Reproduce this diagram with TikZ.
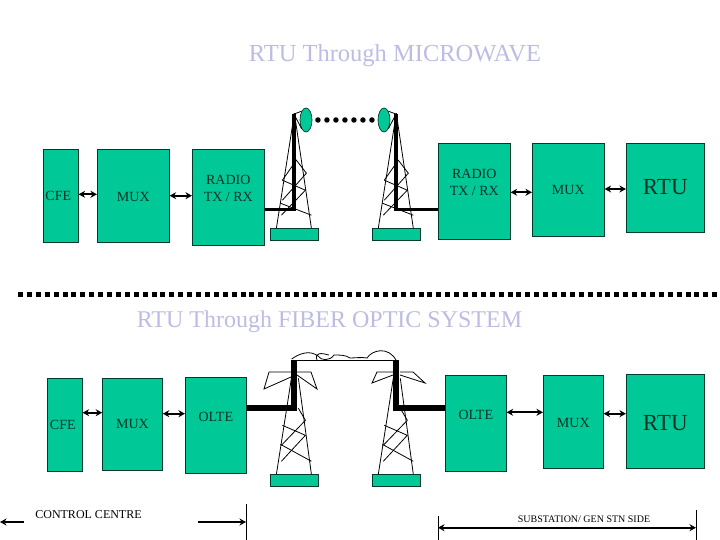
\documentclass[tikz,border=0pt]{standalone}
\usepackage{fontspec}
\setmainfont{Liberation Serif}
\usepackage{tikz}
\usetikzlibrary{
  arrows.meta,
  shapes.geometric
}
\definecolor{boxgreen}{RGB}{0,201,151}
\definecolor{titleblue}{RGB}{188,188,228}

\begin{document}
\begin{tikzpicture}[
  x=1pt, y=-1pt,
  >={Stealth[length=6.5pt,width=7pt]},
  box/.style={draw=black!70!boxgreen, fill=boxgreen, line width=0.7pt, inner sep=0pt,
              font=\fontsize{14}{17}\selectfont, align=center, text=black!75!boxgreen},
  bigbox/.style={box, font=\fontsize{23}{25}\selectfont},
  base/.style={box, minimum width=48pt, minimum height=12pt},
  dish/.style={ellipse, draw=black!70!boxgreen, fill=boxgreen, line width=0.7pt, inner sep=0pt,
               minimum width=12pt, minimum height=24pt},
  heading/.style={font=\fontsize{24}{26}\selectfont, text=titleblue, inner sep=0pt},
  note/.style={inner sep=0pt, text=black},
  arr/.style={<->, line width=2pt, black},
  span/.style={line width=2pt, black},
  feeder/.style={line width=3.8pt, black},
  fatfeeder/.style={line width=6pt, black},
  wire/.style={line width=0.8pt, black},
  pics/mwtower/.style={code={
    \draw[wire] (0,-121) -- (-18,-6) (0,-121) -- (17,-6);
    \draw[wire] (-12,-54) -- (2,-74) -- (12,-61) -- (-12,-34);
    \draw[wire] (-12,-54) -- (11,-44) -- (-13,-19);
    \draw[wire] (-14,-31) -- (17,-19);
  }},
  pics/fibretower/.style={code={
    \draw[wire] (-3,-102) -- (-18,-6) (4,-102) -- (17,-6);
    \draw[wire] (4,-72) -- (11,-60) -- (-13,-35);
    \draw[wire] (-12,-55) -- (11,-45) -- (-13,-19);
    \draw[wire] (-14,-36) -- (17,-19);
  }},
]
\useasboundingbox (0,0) rectangle (720,540);

% microwave side
\node[heading, font=\fontsize{24.5}{26}\selectfont] (titlea) at (395,56) {RTU Through MICROWAVE};
\node[box, minimum width=35pt, minimum height=93pt] (cfea) at (60.8,195.6) {\hspace{-5pt}CFE};
\node[box, minimum width=72pt, minimum height=93pt, text height=12pt] (muxa) at (133.3,195.6) {MUX};
\node[box, minimum width=72pt, minimum height=96pt] (radioa) at (228.3,197) {RADIO\\TX / RX\\~};
\node[box, minimum width=72pt, minimum height=96pt] (radiob) at (474.3,191) {RADIO\\TX / RX\\~};
\node[box, minimum width=72pt, minimum height=93pt] (muxb) at (568.3,190) {MUX};
\node[bigbox, minimum width=78pt, minimum height=89pt] (rtua) at (665.3,187.4) {RTU};

\draw[arr] (cfea.east |- 0,194.3) -- (muxa.west |- 0,194.3);
\draw[arr] (muxa.east |- 0,195.7) -- (radioa.west |- 0,195.7);
\draw[arr] (radiob.east |- 0,192.3) -- (muxb.west |- 0,192.3);
\draw[arr] (muxb.east |- 0,189) -- (rtua.west |- 0,189);

\node[base] (basea) at (294.4,234.2) {};
\node[base] (baseb) at (396.3,234.2) {};
\pic (towera) at (basea) {mwtower};
\pic (towerb) at (baseb) {mwtower};
\coordinate (masta) at (294,114);
\coordinate (mastb) at (396,114);
\node[dish] (disha) at (306,120) {};
\node[dish] (dishb) at (384,120) {};
\draw[feeder] (radioa.east |- 0,209.5) -| (masta);
\draw[feeder] (radiob.west |- 0,209.5) -| (mastb);
\draw[wire] (disha.north west) -- (masta) -- (disha.south west);
\draw[wire] (dishb.north east) -- (mastb) -- (dishb.south east);
\draw[line width=5.5pt, line cap=round, dash pattern=on 0pt off 9pt, shorten <=5.6pt, shorten >=5pt] (disha) -- (dishb);

% divider
\coordinate (dividera) at (18,294);
\coordinate (dividerb) at (718,294);
\draw[line width=5pt, dash pattern=on 5pt off 3.9pt] (dividera) -- (dividerb);

% fibre side
\node[heading] (titleb) at (329.5,322) {RTU Through FIBER OPTIC SYSTEM};
\node[box, minimum width=35pt, minimum height=93pt] (cfec) at (64.8,424.5) {\hspace{-4pt}CFE};
\node[box, minimum width=60pt, minimum height=92pt] (muxc) at (132.5,424) {MUX};
\node[box, minimum width=61pt, minimum height=96pt] (oltea) at (215.8,425.8) {OLTE\\~};
\node[box, minimum width=61pt, minimum height=96pt] (olteb) at (475.8,423.6) {OLTE\\~};
\node[box, minimum width=60pt, minimum height=93pt, text height=11pt] (muxd) at (573.3,421.8) {MUX};
\node[bigbox, minimum width=78pt, minimum height=94pt, text height=19pt] (rtub) at (665.3,421.3) {RTU};

\draw[arr] (cfec.east |- 0,412.7) -- (muxc.west |- 0,412.7);
\draw[arr] (muxc.east |- 0,413.7) -- (oltea.west |- 0,413.7);
\draw[arr] (olteb.east |- 0,412.3) -- (muxd.west |- 0,412.3);
\draw[arr] (muxd.east |- 0,413.7) -- (rtub.west |- 0,413.7);

\node[base] (basec) at (294.4,480.3) {};
\node[base] (based) at (396.3,480.3) {};
\pic (towerc) at (basec) {fibretower};
\pic (towerd) at (based) {fibretower};
\coordinate (mastc) at (294,360);
\coordinate (mastd) at (396,360);
\draw[fatfeeder] (oltea.east |- 0,407.5) -| (mastc);
\draw[fatfeeder] (olteb.west |- 0,407.5) -| (mastd);

% cross arms and cable
\draw[wire] (291,372) -- (269,372) -- (264,389) -- (291,377);
\draw[wire] (297,372) -- (311,372) -- (317,389) -- (297,375);
\draw[wire] (394,372) -- (377,372) -- (372,383) -- (393,375);
\draw[wire] (400,372) -- (413,372) -- (425,383) -- (400,375);
\draw[wire] (mastc) -- (mastd);
\draw[wire] (291.7,359) .. controls (300,353) and (310,350) .. (318,356) .. controls (321,361) and (330,361) .. (334,355) .. controls (340,355) and (346,355) .. (350,358) .. controls (354,358) and (362,357) .. (367,358) .. controls (372,350) and (388,346) .. (mastd);
\draw[wire] (317,360) .. controls (314,352) and (322,353) .. (329,355);

% extent of each end
\node[note, font=\fontsize{12}{14}\selectfont] (controllabel) at (88.5,514.5) {CONTROL CENTRE};
\node[note, font=\fontsize{10}{12}\selectfont] (stationlabel) at (584,519.5) {SUBSTATION/ GEN STN SIDE};
\coordinate (ticka) at (246,504);
\coordinate (tickab) at (246,540);
\coordinate (tickb) at (438,516);
\coordinate (tickbb) at (438,540);
\coordinate (tickc) at (696,510);
\coordinate (tickcb) at (696,540);
\draw[wire] (ticka) -- (tickab);
\draw[wire] (tickb) -- (tickbb);
\draw[wire] (tickc) -- (tickcb);
\coordinate (spana) at (0,522);
\coordinate (spanb) at (24,522);
\coordinate (spanc) at (198,522);
\draw[span, ->] (spanb) -- (spana);
\draw[span, ->] (spanc) -- (ticka |- spanc);
\draw[span, <->] (tickb |- 0,527.7) -- (tickc |- 0,527.7);

\end{tikzpicture}
\end{document}
